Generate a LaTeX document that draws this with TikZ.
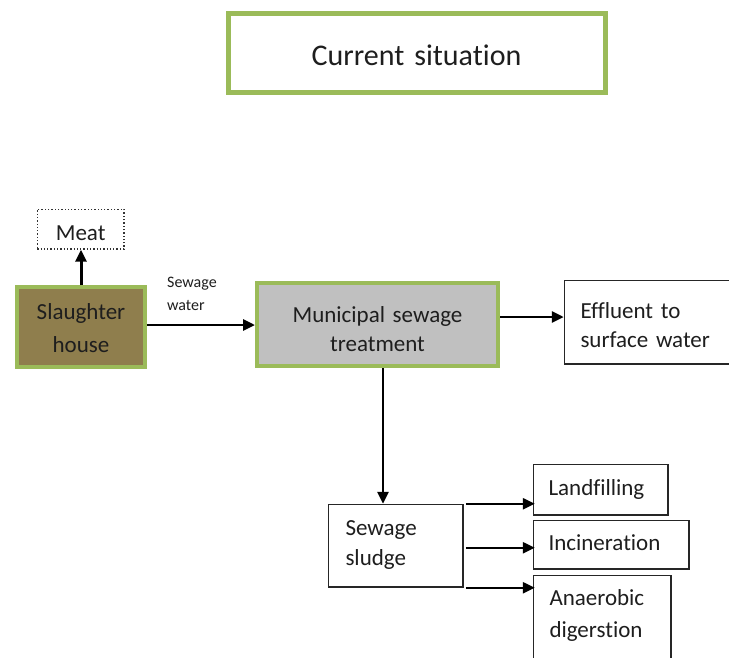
\documentclass[tikz,border=0pt]{standalone}
\usepackage{fontspec}
\setmainfont[Ligatures={NoCommon},WordSpace=0.7]{Carlito}
\usetikzlibrary{arrows.meta,calc}
\definecolor{boxgreen}{RGB}{155,187,89}
\definecolor{shbrown}{RGB}{143,126,77}
\definecolor{mgray}{RGB}{192,192,192}
\definecolor{txt}{RGB}{30,30,30}
\begin{document}
\begin{tikzpicture}[x=1pt,y=-1pt,
  every node/.style={text=txt},
  base/.style={anchor=north west, inner sep=0pt, rectangle},
  mainfont/.style={font=\fontsize{23}{31}\selectfont},
  greenbox/.style={base, draw=boxgreen, line width=4pt, align=center, mainfont},
  plainbox/.style={base, draw=black!85, line width=1.5pt, align=left, mainfont},
  arr/.style={line width=2.8pt, -{Triangle[length=12pt,width=11pt]}},
]
\useasboundingbox[fill=white] (0,0) rectangle (729,657);

% title
\node[greenbox, line width=5pt, text width=377pt, text height=52.5pt, text depth=26.5pt,
      font=\fontsize{30}{36}\selectfont] (title) at (225.5,10.5) {Current situation};

% meat
\node[base, draw=black!80, dotted, line width=1.3pt, align=center, mainfont,
      text width=86.8pt, text height=31.4pt, text depth=8.4pt] (meat) at (36.6,208.6) {Meat};

% slaughter house
\node[greenbox, fill=shbrown, text width=128pt, text height=32pt, text depth=48pt,
      font=\fontsize{23}{33}\selectfont] (slaughter) at (15,285) {Slaughter\\house};

% municipal
\node[greenbox, fill=mgray, text width=241pt, text height=39pt, text depth=44pt,
      font=\fontsize{23}{29}\selectfont] (municipal) at (255,281) {Municipal sewage\\treatment};

% effluent
\node[plainbox, inner xsep=16pt, text width=200pt, text height=38.25pt, text depth=45.25pt,
      font=\fontsize{23}{29}\selectfont] (effluent) at (563.75,279.75) {Effluent to\\surface water};

% sewage water label
\node[anchor=base west, inner sep=0pt, align=left, text width=70pt,
      font=\fontsize{16}{23}\selectfont] (lbl) at (167,287) {Sewage\\water};

% sludge
\node[plainbox, inner xsep=17pt, text width=100.5pt, text height=31.25pt, text depth=51.25pt,
      font=\fontsize{23}{30}\selectfont] (sludge) at (327.75,503.75) {Sewage\\sludge};

% outputs
\node[plainbox, inner xsep=15pt, text width=104.5pt, text height=31.25pt, text depth=19.25pt]
      (landfill) at (532.75,463.75) {Landfilling};
\node[plainbox, inner xsep=15pt, text width=125.5pt, text height=30.25pt, text depth=18.25pt]
      (incin) at (532.75,519.75) {Incineration};
\node[plainbox, inner xsep=16pt, text width=105.5pt, text height=30.25pt, text depth=115pt,
      font=\fontsize{23}{32}\selectfont] (anaer) at (532.75,574.75) {Anaerobic\\digerstion};

% connectors
\draw[arr, line width=3pt] (slaughter.north) -- (meat.south -| slaughter.north);
\draw[arr] ([yshift=2pt]slaughter.east) -- ([yshift=2pt]slaughter.east -| municipal.west);
\draw[arr] ([yshift=7.5pt]municipal.east) -- ([yshift=7.5pt]municipal.east -| effluent.west);
\draw[arr] ([xshift=5.5pt]municipal.south) -- ([xshift=5.5pt]municipal.south |- sludge.north);
\draw[arr, line width=2.5pt] ([xshift=2pt]sludge.north east) -- ([xshift=2pt]sludge.north east -| landfill.west);
\draw[arr, line width=2.5pt] ([xshift=2pt,yshift=-2pt]sludge.east) -- ([xshift=2pt,yshift=-2pt]sludge.east -| incin.west);
\draw[arr, line width=2.5pt] ([xshift=2pt]sludge.south east) -- ([xshift=2pt]sludge.south east -| anaer.west);
\end{tikzpicture}
\end{document}
